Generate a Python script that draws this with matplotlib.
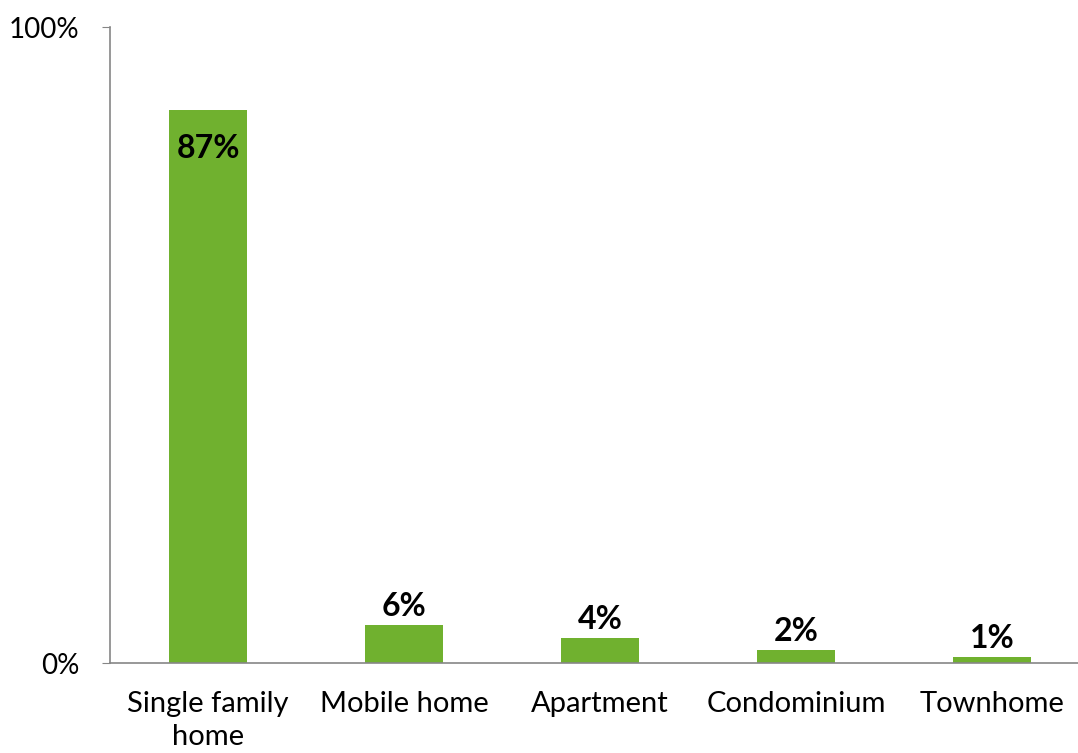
import matplotlib.pyplot as plt
from matplotlib.ticker import FixedLocator

# Housing type shares
categories = ['Single family\nhome', 'Mobile home', 'Apartment', 'Condominium', 'Townhome']
shares = [87, 6, 4, 2, 1]
bar_color = '#70B12F'

plt.rcParams['font.family'] = ['Lato', 'DejaVu Sans']

fig = plt.figure(figsize=(10.78, 7.53), dpi=100)
ax = fig.add_axes([110 / 1078, 90 / 753, 980 / 1078, 636 / 753])

x = list(range(len(categories)))
ax.bar(x, shares, width=0.4, color=bar_color, zorder=2)

ax.set_xlim(-0.5, len(categories) - 0.5)
ax.set_ylim(0, 100)
ax.yaxis.set_major_locator(FixedLocator([0, 100]))
ax.set_yticklabels(['0%', '100%'], fontsize=20)
ax.set_xticks(x)
ax.set_xticklabels(categories, fontsize=21, linespacing=1.35)
ax.tick_params(axis='x', length=0, pad=20)
ax.tick_params(axis='y', length=6, color='#868686', pad=16)

for side in ['top', 'right']:
    ax.spines[side].set_visible(False)
for side in ['left', 'bottom']:
    ax.spines[side].set_color('#868686')
    ax.spines[side].set_linewidth(1.2)

# value labels: inside the tall bar, on top of the short ones
for xi, v in zip(x, shares):
    if v > 50:
        ax.text(xi, v - 3.8, f'{v}%', ha='center', va='top', fontsize=23, fontweight='bold')
    else:
        ax.text(xi, v + 0.6, f'{v}%', ha='center', va='bottom', fontsize=23, fontweight='bold')

fig.savefig('out.png', dpi=100)
